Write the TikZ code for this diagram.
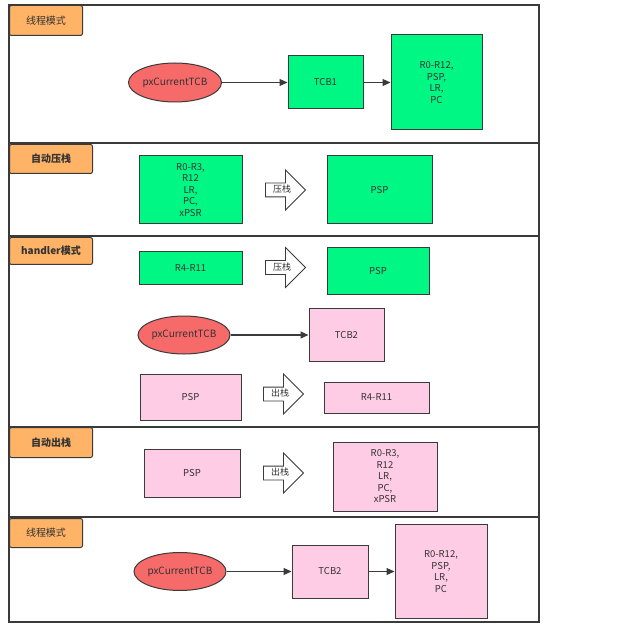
\documentclass[tikz,border=0pt]{standalone}
\usepackage{fontspec}
\setmainfont{Noto Sans CJK SC}
\usetikzlibrary{arrows.meta,positioning,shapes.geometric,shapes.arrows}
\definecolor{regGreen}{HTML}{00F783}
\definecolor{regPink}{HTML}{FFCCE6}
\definecolor{tcbRed}{HTML}{F76A6A}
\definecolor{tagOrange}{HTML}{FFB366}
\definecolor{lineGray}{HTML}{3A3A3A}
\definecolor{txtGray}{HTML}{333333}

\begin{document}
\begin{tikzpicture}[
        x=1pt, y=-1pt,
        font=\fontsize{9.5}{11.5}\selectfont,
        tag/.style={draw=lineGray, fill=tagOrange, rounded corners=2pt,
          anchor=north west, line width=1pt, font=\fontsize{10}{12}\selectfont,
          text=txtGray, inner sep=0pt},
        reg/.style={draw=lineGray, line width=1pt, align=center, text=txtGray,
          inner sep=1pt},
        greg/.style={reg, fill=regGreen},
        preg/.style={reg, fill=regPink},
        ptr/.style={ellipse, draw=lineGray, fill=tcbRed, line width=1pt,
          minimum width=93pt, minimum height=39pt, inner sep=0pt,
          text=txtGray, font=\fontsize{10}{12}\selectfont},
        stk/.style={single arrow, draw=lineGray, fill=white, line width=0.8pt,
          minimum height=40pt, single arrow head extend=13pt,
          text height=7pt, text depth=2pt, inner ysep=2pt, inner xsep=1pt,
          font=\fontsize{9}{10}\selectfont, text=txtGray},
        arr/.style={-{Triangle[length=8pt, width=7pt]}, lineGray, line width=1.1pt}
      ]
        \useasboundingbox (0,0) rectangle (640,631);
        % lanes
        \draw[lineGray, line width=1.3pt] (9,5) rectangle (539,622);
        \foreach \y in {143,236,427,517}
          \draw[lineGray, line width=1.3pt] (9,\y) -- (539,\y);
        \node[tag, minimum width=73pt, minimum height=30pt] (lane1) at (9,5) {线程模式};
        \node[tag, minimum width=83pt, minimum height=29pt] (lane2) at (9,144) {\bfseries 自动压栈};
        \node[tag, minimum width=83pt, minimum height=27pt] (lane3) at (9,237) {\bfseries handler模式};
        \node[tag, minimum width=83pt, minimum height=30pt] (lane4) at (9,427) {\bfseries 自动出栈};
        \node[tag, minimum width=73pt, minimum height=29pt] (lane5) at (9,518) {线程模式};

        % thread mode, TCB1
        \node[ptr] (cur1) at (175,82.5) {pxCurrentTCB};
        \node[greg, minimum width=75pt, minimum height=53pt] (tcb1) at (325.5,82.5) {TCB1};
        \node[greg, minimum width=91pt, minimum height=95pt] (ctx1) at (436.5,82.5) {R0-R12,\\PSP,\\LR,\\PC};
        \draw[arr] (cur1) -- (tcb1);
        \draw[arr] (tcb1) -- (ctx1);

        % hardware push
        \node[greg, minimum width=103pt, minimum height=68pt] (hw1) at (190.5,190) {R0-R3,\\R12\\LR,\\PC,\\xPSR};
        \node[stk] (push1) at (282,190) {压栈};
        \node[greg, minimum width=105pt, minimum height=68pt] (psp1) at (379.5,190) {PSP};

        % handler mode
        \node[greg, minimum width=103pt, minimum height=32pt] (sw1) at (190.5,268) {R4-R11};
        \node[stk] (push2) at (282,267.5) {压栈};
        \node[greg, minimum width=102pt, minimum height=46pt] (psp2) at (378,271) {PSP};
        \node[ptr, minimum width=92pt, minimum height=38pt] (cur2) at (184,335) {pxCurrentTCB};
        \node[preg, minimum width=75pt, minimum height=53pt] (tcb2) at (346.5,335) {TCB2};
        \draw[arr] (cur2) -- (tcb2);
        \node[preg, minimum width=101pt, minimum height=46pt] (psp3) at (190.5,397) {PSP};
        \node[stk] (pop1) at (280,394) {出栈};
        \node[preg, minimum width=105pt, minimum height=31pt] (sw2) at (376.5,397.5) {R4-R11};

        % hardware pop
        \node[preg, minimum width=96pt, minimum height=48pt] (psp4) at (192,473) {PSP};
        \node[stk] (pop2) at (280,473) {出栈};
        \node[preg, minimum width=104pt, minimum height=69pt] (hw2) at (385,476.5) {R0-R3,\\R12\\LR,\\PC,\\xPSR};

        % thread mode, TCB2
        \node[ptr, minimum width=92pt, minimum height=38pt] (cur3) at (180,571.5) {pxCurrentTCB};
        \node[preg, minimum width=76pt, minimum height=53pt] (tcb3) at (330,571.5) {TCB2};
        \node[preg, minimum width=92pt, minimum height=94pt] (ctx2) at (441,571.5) {R0-R12,\\PSP,\\LR,\\PC};
        \draw[arr] (cur3) -- (tcb3);
        \draw[arr] (tcb3) -- (ctx2);
      \end{tikzpicture}
\end{document}
